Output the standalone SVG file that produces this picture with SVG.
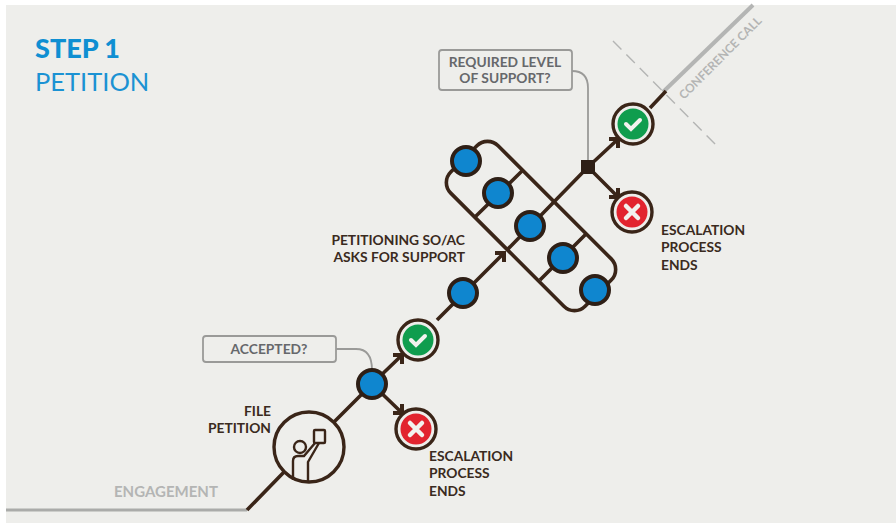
<svg xmlns="http://www.w3.org/2000/svg" width="896" height="525" viewBox="0 0 896 525">
<style>
text{font-family:Lato,"Noto Sans",sans-serif}
.lb{font-size:13.800px;font-weight:700;fill:#3a2a20}
.cb{font-size:13.800px;font-weight:700;fill:#66686b}
.g{font-weight:700;fill:#b4b5b4}
.ln{fill:none;stroke:#3a2518;stroke-width:3.6}
.ar{fill:none;stroke:#3a2518;stroke-width:4}
.bn{fill:#0f86cf;stroke:#2e1f16;stroke-width:4}
.ring{fill:#eeeeeb;stroke:#3a2518;stroke-width:3.4}
.co{fill:none;stroke:#9a9a98;stroke-width:1.8}
.ic{fill:none;stroke:#3a2518;stroke-width:2.4}
.mk{fill:none;stroke:#f2f2ee;stroke-linecap:round}
</style>
<rect width="896" height="525" fill="#fff"/>
<rect x="6" y="5" width="890" height="518" fill="#eeeeeb"/>
<text x="35" y="58" font-size="27" font-weight="900" fill="#0f8fd2">STEP 1</text>
<text x="35" y="91" font-size="25.500" fill="#1b92d3">PETITION</text>
<g id="connectors">
<path d="M6 510H247" fill="none" stroke="#aaaba9" stroke-width="3"/>
<path d="M663 92L753 5" fill="none" stroke="#b4b5b4" stroke-width="4"/>
<path d="M613 41L716 145" fill="none" stroke="#b4b5b4" stroke-width="1.4" stroke-dasharray="12 7"/>
<path class="ln" d="M247 510L285 471M334 422L372 384L400 357M372 384L400 411M437 320L502 255M588 167L616 141M588 167L616 195M507 250L588 167M650 108L666 91"/>
<path class="ar" d="M393 355H402V364M393 413H402V404M495 253H504V262M609 139H618V148M609 197H618V188"/>
<rect id="group-outline" x="436" y="192.500" width="190" height="67" rx="15" transform="rotate(45 531 226)" class="ln"/>
<path class="ln" d="M475 217L523 170M540 280L587 233"/>
<path class="co" d="M336 349H356Q372 349 372 370M572 71Q588 71 588 88V162"/>
</g>
<g id="node-file"><circle cx="309" cy="447" r="35" class="ring"/>
<circle class="ic" cx="300" cy="447" r="6"/><path class="ic" d="M293 480V461Q293 456 298 456H304L315 443M308 481V462L319 443"/><rect class="ic" x="314" y="430" width="11" height="13" rx="1"/>
<text class="lb" text-anchor="end" x="271" y="416">FILE</text><text class="lb" text-anchor="end" x="271" y="433">PETITION</text></g>
<g id="node-accepted"><circle class="bn" cx="372" cy="384" r="14"/></g>
<g id="node-accepted-box"><rect x="203" y="336" width="133" height="26" rx="3" class="co"/><text class="cb" text-anchor="middle" x="269" y="354">ACCEPTED?</text></g>
<g id="node-check1"><circle class="ring" cx="418" cy="340" r="20"/><circle cx="418" cy="340" r="15.500" fill="#0f9d4e"/><path class="mk" stroke-width="4" d="M411 340L416 345L425 336"/></g>
<g id="node-x1"><circle class="ring" cx="416" cy="429" r="20"/><circle cx="416" cy="429" r="15.500" fill="#e2242f"/><path class="mk" stroke-width="4.500" d="M410 423L422 435M422 423L410 435"/></g>
<g id="node-end1"><text class="lb" x="429" y="461">ESCALATION</text><text class="lb" x="429" y="478">PROCESS</text><text class="lb" x="429" y="496">ENDS</text></g>
<g id="node-blue"><circle class="bn" cx="463" cy="293" r="14"/></g>
<g id="node-soac"><text class="lb" text-anchor="end" x="465" y="245">PETITIONING SO/AC</text><text class="lb" text-anchor="end" x="465" y="262">ASKS FOR SUPPORT</text></g>
<g id="node-so1"><circle class="bn" cx="466" cy="161" r="14"/></g>
<g id="node-so2"><circle class="bn" cx="498" cy="193" r="14"/></g>
<g id="node-so3"><circle class="bn" cx="530" cy="226" r="14"/></g>
<g id="node-so4"><circle class="bn" cx="563" cy="258" r="14"/></g>
<g id="node-so5"><circle class="bn" cx="595" cy="290" r="14"/></g>
<g id="node-required"><rect x="439" y="50" width="133" height="40" rx="3" class="co"/><text class="cb" text-anchor="middle" x="505" y="67">REQUIRED LEVEL</text><text class="cb" text-anchor="middle" x="505" y="83">OF SUPPORT?</text></g>
<g id="node-square"><rect x="581" y="160" width="14" height="14" fill="#2e1f16"/></g>
<g id="node-check2"><circle class="ring" cx="633" cy="124" r="20"/><circle cx="633" cy="124" r="15.500" fill="#0f9d4e"/><path class="mk" stroke-width="4" d="M626 124L631 129L640 120"/></g>
<g id="node-x2"><circle class="ring" cx="632" cy="212" r="20"/><circle cx="632" cy="212" r="15.500" fill="#e2242f"/><path class="mk" stroke-width="4.500" d="M626 206L638 218M638 206L626 218"/></g>
<g id="node-end2"><text class="lb" x="661" y="235">ESCALATION</text><text class="lb" x="661" y="252">PROCESS</text><text class="lb" x="661" y="270">ENDS</text></g>
<text class="g" x="114" y="497" font-size="15">ENGAGEMENT</text>
<text class="g" font-size="12" font-weight="400" transform="translate(684 100) rotate(-45)">CONFERENCE CALL</text>
</svg>
